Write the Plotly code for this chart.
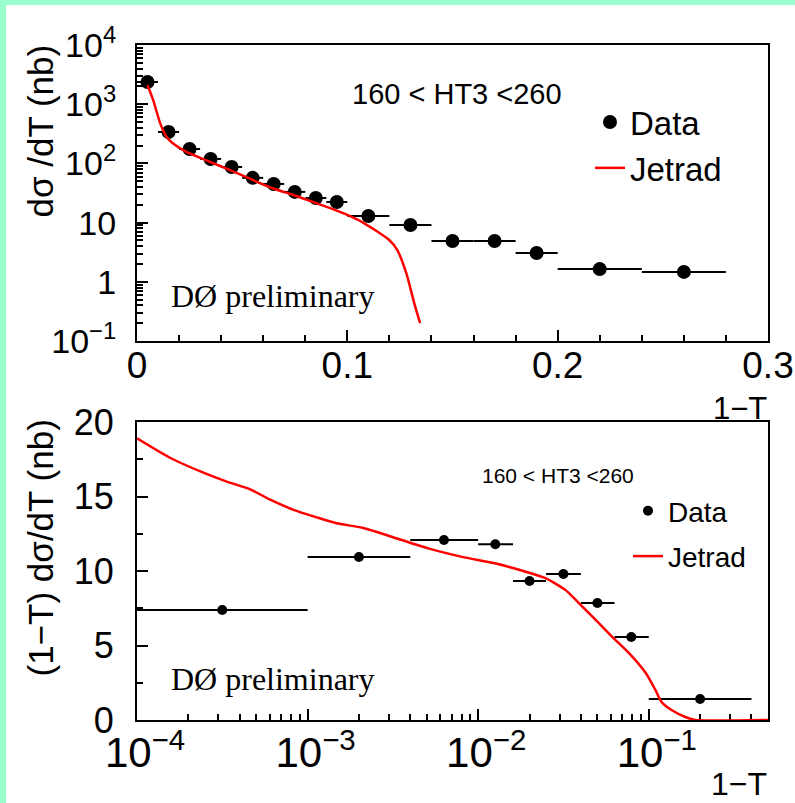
import plotly.graph_objects as go

# ---- upper panel: d(sigma)/dT vs 1-T (linear x, log y) ----
top_lo = [0.00, 0.01, 0.02, 0.03, 0.04, 0.05, 0.06, 0.07, 0.08, 0.09,
          0.10, 0.12, 0.14, 0.16, 0.18, 0.20, 0.24]
top_hi = [0.01, 0.02, 0.03, 0.04, 0.05, 0.06, 0.07, 0.08, 0.09, 0.10,
          0.12, 0.14, 0.16, 0.18, 0.20, 0.24, 0.28]
top_x = [0.005, 0.015, 0.025, 0.035, 0.045, 0.055, 0.065, 0.075, 0.085, 0.095,
         0.11, 0.13, 0.15, 0.17, 0.19, 0.22, 0.26]
top_y = [2370, 340, 175, 119, 87, 57, 45, 33, 26, 22.3,
         12.9, 9.1, 4.9, 4.9, 3.06, 1.64, 1.47]

jet_top_x = [0.005, 0.0077, 0.011, 0.014, 0.017, 0.0237, 0.035, 0.044, 0.055,
             0.0645, 0.074, 0.0835, 0.0915, 0.100, 0.1071, 0.1199, 0.1237,
             0.128, 0.1318, 0.1346]
jet_top_y = [2090, 1175, 479, 282, 219, 155, 105, 77.6, 52.5,
             38.0, 29.5, 22.4, 17.7, 13.5, 10.2, 5.08, 3.47,
             1.41, 0.437, 0.20]

top_tickvals = [0.1, 1, 10, 100, 1000, 10000]
top_ticktext = ["10<sup>\u22121</sup>", "1", "10", "10<sup>2</sup>",
                "10<sup>3</sup>", "10<sup>4</sup>"]

# ---- lower panel: (1-T) d(sigma)/dT vs 1-T (log x, linear y) ----
bot_lo = [0.0001, 0.001, 0.004, 0.01, 0.016, 0.025, 0.04, 0.063, 0.1]
bot_hi = [0.001, 0.004, 0.01, 0.016, 0.025, 0.04, 0.063, 0.1, 0.4]
bot_x = [0.000316, 0.002, 0.0063, 0.0126, 0.02, 0.0316, 0.05, 0.079, 0.2]
bot_y = [7.38, 10.94, 12.08, 11.8, 9.33, 9.8, 7.85, 5.57, 1.41]

jet_bot_x = [0.0001, 0.000156, 0.000245, 0.000336, 0.000458, 0.0006, 0.000828,
             0.00113, 0.00148, 0.0021, 0.00331, 0.00516, 0.00805, 0.0127,
             0.019, 0.025, 0.0327, 0.0389, 0.049, 0.0608, 0.0764, 0.096,
             0.1096, 0.119, 0.136, 0.164, 0.188, 0.5]
jet_bot_y = [18.9, 17.6, 16.6, 16.0, 15.5, 14.8, 14.1,
             13.6, 13.2, 12.9, 12.2, 11.5, 10.95, 10.5,
             9.95, 9.5, 8.7, 7.85, 6.7, 5.6, 4.5, 3.15,
             2.0, 1.2, 0.67, 0.2, 0.0, 0.0]

bot_tickvals = [0.0001, 0.001, 0.01, 0.1]
bot_ticktext = ["10<sup>\u22124</sup>", "10<sup>\u22123</sup>",
                "10<sup>\u22122</sup>", "10<sup>\u22121</sup>"]

W, H = 795, 803
SANS = "Liberation Sans, Arial, sans-serif"
SERIF = "Liberation Serif, Times New Roman, serif"
BG = "#99FFCC"


def px_x(p):
    return p / W


def px_y(p):
    return 1 - p / H


fig = go.Figure()

fig.add_trace(go.Scatter(
    x=top_x, y=top_y, mode="markers", name="Data",
    marker=dict(size=14, color="black"),
    error_x=dict(type="data", symmetric=False,
                 array=[h - x for h, x in zip(top_hi, top_x)],
                 arrayminus=[x - l for x, l in zip(top_x, top_lo)],
                 width=0, thickness=2, color="black"),
    xaxis="x", yaxis="y", legend="legend", legendgroup="a"))
fig.add_trace(go.Scatter(
    x=jet_top_x, y=jet_top_y, mode="lines", name="Jetrad",
    line=dict(color="red", width=2.5, shape="spline", smoothing=0.6),
    xaxis="x", yaxis="y", legend="legend", legendgroup="b"))

fig.add_trace(go.Scatter(
    x=bot_x, y=bot_y, mode="markers", name="Data",
    marker=dict(size=10, color="black"),
    error_x=dict(type="data", symmetric=False,
                 array=[h - x for h, x in zip(bot_hi, bot_x)],
                 arrayminus=[x - l for x, l in zip(bot_x, bot_lo)],
                 width=0, thickness=2, color="black"),
    xaxis="x2", yaxis="y2", legend="legend2", legendgroup="c"))
fig.add_trace(go.Scatter(
    x=jet_bot_x, y=jet_bot_y, mode="lines", name="Jetrad",
    line=dict(color="red", width=2.5, shape="spline", smoothing=0.6),
    xaxis="x2", yaxis="y2", legend="legend2", legendgroup="d"))

frame = dict(showline=True, linecolor="black", linewidth=2, mirror=True,
             ticks="inside", tickcolor="black", tickwidth=1.5,
             showgrid=False, zeroline=False, automargin=False)
xdom = [px_x(137), px_x(768)]

fig.update_layout(
    template="none",
    width=W, height=H, margin=dict(l=0, r=0, t=0, b=0, pad=0, autoexpand=False),
    paper_bgcolor=BG, plot_bgcolor="white",
    xaxis=dict(domain=xdom, anchor="y", range=[0, 0.3],
               tickvals=[0, 0.1, 0.2, 0.3], ticktext=["0", "0.1", "0.2", "0.3"],
               ticklen=11, ticklabelstandoff=-9,
               tickfont=dict(family=SANS, size=37, color="black"),
               minor=dict(ticks="inside", dtick=0.02, ticklen=6,
                          tickcolor="black", tickwidth=1.5),
               **frame),
    yaxis=dict(domain=[px_y(341), px_y(45)], anchor="x", type="log",
               range=[-1, 4], tickvals=top_tickvals, ticktext=top_ticktext,
               ticklen=11, ticklabelstandoff=12,
               tickfont=dict(family=SANS, size=34, color="black"),
               minor=dict(ticks="inside", dtick="D1", ticklen=6,
                          tickcolor="black", tickwidth=1.5),
               **frame),
    xaxis2=dict(domain=xdom, anchor="y2", type="log",
                range=[-4, -0.301], tickvals=bot_tickvals, ticktext=bot_ticktext,
                ticklen=11, ticklabelstandoff=-5, ticklabelshift=8,
                tickfont=dict(family=SANS, size=42, color="black"),
                minor=dict(ticks="inside", dtick="D1", ticklen=6,
                           tickcolor="black", tickwidth=1.5),
                layer="below traces", **frame),
    yaxis2=dict(domain=[px_y(720), px_y(422)], anchor="x2",
                range=[0, 20], tickvals=[0, 5, 10, 15, 20],
                ticklen=11, ticklabelstandoff=14,
                tickfont=dict(family=SANS, size=36, color="black"),
                minor=dict(ticks="inside", dtick=2.5, ticklen=6,
                           tickcolor="black", tickwidth=1.5),
                layer="below traces", **frame),
    legend=dict(x=px_x(590), y=px_y(94), xanchor="left", yanchor="top",
                bgcolor="rgba(0,0,0,0)", tracegroupgap=0, borderwidth=0,
                font=dict(family=SANS, size=33, color="black")),
    legend2=dict(x=px_x(628), y=px_y(486), xanchor="left", yanchor="top",
                 bgcolor="rgba(0,0,0,0)", tracegroupgap=6, borderwidth=0,
                 font=dict(family=SANS, size=28, color="black")),
    shapes=[dict(type="rect", xref="paper", yref="paper",
                 x0=px_x(6), x1=1, y0=0, y1=px_y(5),
                 fillcolor="white", line=dict(width=0), layer="below")],
)

ann = [
    dict(text="160 < HT3 <260", x=px_x(457), y=px_y(94),
         font=dict(family=SANS, size=29, color="black")),
    dict(text="160 < HT3 <260", x=px_x(558), y=px_y(475),
         font=dict(family=SANS, size=21, color="black")),
    dict(text="D\u00d8 preliminary", x=px_x(169), y=px_y(296), xanchor="left",
         font=dict(family=SERIF, size=32, color="black")),
    dict(text="D\u00d8 preliminary", x=px_x(169), y=px_y(679), xanchor="left",
         font=dict(family=SERIF, size=32, color="black")),
    dict(text="1\u2212T", x=px_x(769), y=px_y(408), xanchor="right",
         font=dict(family=SANS, size=31, color="black")),
    dict(text="1\u2212T", x=px_x(769), y=px_y(784), xanchor="right",
         font=dict(family=SANS, size=32, color="black")),
    dict(text="d\u03c3 /dT (nb)", x=px_x(40), y=px_y(43), yanchor="top",
         textangle=-90, font=dict(family=SANS, size=35, color="black")),
    dict(text="(1\u2212T) d\u03c3/dT (nb)", x=px_x(40), y=px_y(418), yanchor="top",
         textangle=-90, font=dict(family=SANS, size=35, color="black")),
]
for a in ann:
    a.setdefault("xanchor", "center")
    a.setdefault("yanchor", "middle")
    fig.add_annotation(xref="paper", yref="paper", showarrow=False, **a)

fig.write_html("out.html")
